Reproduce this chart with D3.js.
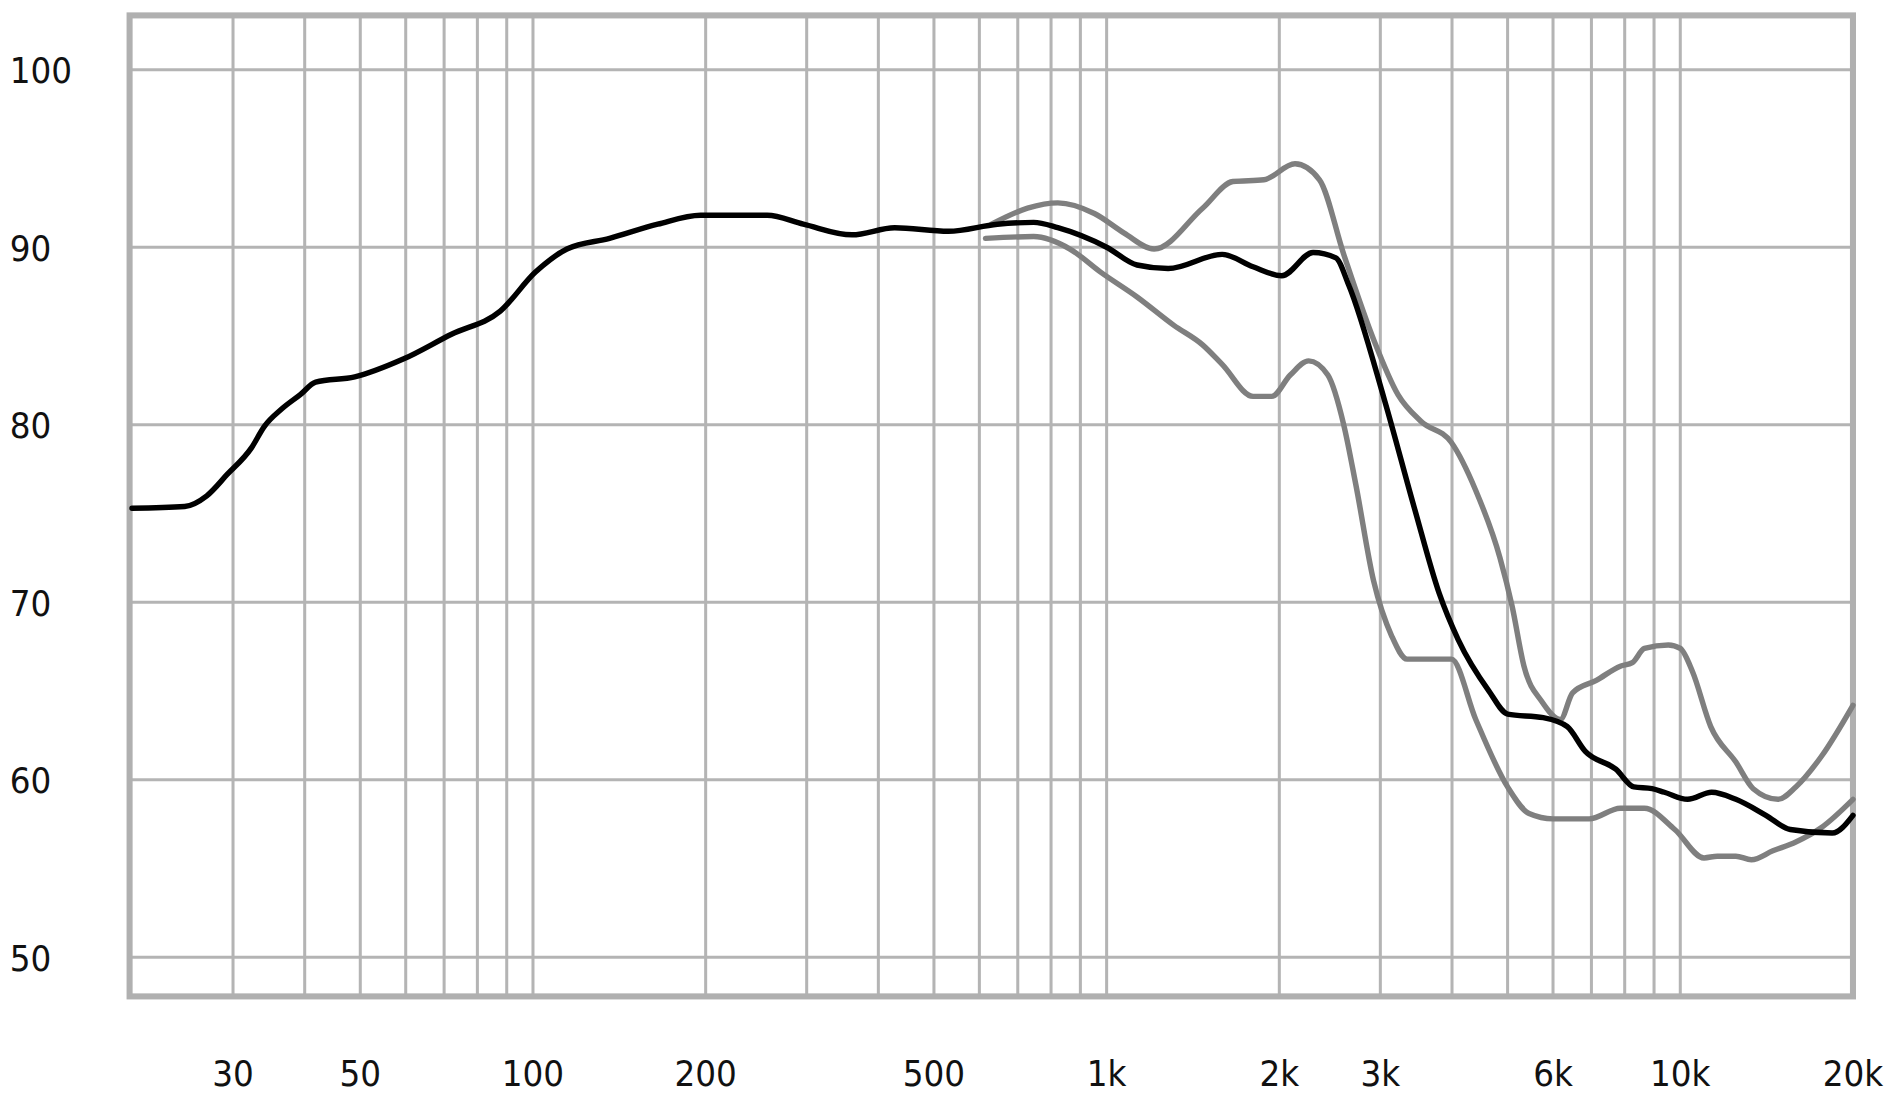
<!DOCTYPE html>
<html>
<head>
<meta charset="utf-8">
<script src="https://cdn.jsdelivr.net/npm/d3@7"></script>
<style>
  body { margin: 0; background: #fff; }
  text { font-family: "DejaVu Sans Condensed", "DejaVu Sans", sans-serif; font-size: 30px; fill: #111; }
</style>
</head>
<body>
<div id="plot"></div>
<script>
// frequency (Hz) / level (dB)
var blackFreq = [20,24.7,27,29.3,32.3,34,36.5,39.3,41.8,48.9,59.4,72.1,87.7,101,114.6,136,165,196,256,296,360,427,530,645,746,822,1000,1130,1280,1590,1800,2020,2290,2510,2640,3050,3440,3800,4100,4640,5000,5770,6350,6830,7720,8300,8930,9380,10300,11340,12500,14100,15550,18400,20000];
var blackDb = [75.3,75.4,76,77.2,78.7,79.9,80.9,81.7,82.4,82.7,83.7,85.1,86.4,88.6,89.9,90.5,91.3,91.8,91.8,91.3,90.7,91.1,90.9,91.3,91.4,91.1,90,89,88.8,89.6,88.9,88.4,89.7,89.4,87.9,81.4,75.3,70.5,67.9,65,63.7,63.5,63,61.6,60.6,59.6,59.5,59.3,58.9,59.3,58.9,58,57.2,57,58];

var upperFreq = [630,728,822,952,1073,1210,1470,1660,1880,2130,2350,2590,2920,3220,3530,3990,4400,4850,5090,5340,5740,6180,6490,7140,7860,8250,8660,9530,10000,10500,11300,12500,13400,14800,15900,17600,20000];
var upperDb = [91.3,92.2,92.5,91.9,90.8,89.9,92.2,93.7,93.8,94.7,93.8,89.6,84.8,81.7,80.2,79,76.3,72.5,69.8,66.4,64.4,63.4,64.9,65.6,66.4,66.6,67.4,67.6,67.4,66.1,63,61,59.5,58.9,59.6,61.3,64.2];

var lowerFreq = [615,746,863,976,1130,1310,1470,1590,1800,1940,2090,2250,2430,2590,2720,2920,3140,3340,3990,4400,5000,5450,6000,6940,7860,8660,9780,11000,11600,12500,13300,14500,15900,17600,20000];
var lowerDb = [90.5,90.6,89.9,88.6,87.2,85.6,84.5,83.4,81.6,81.6,82.8,83.6,82.8,80,76.6,71.2,68.1,66.8,66.8,63.4,59.6,58.1,57.8,57.8,58.4,58.4,57.2,55.6,55.7,55.7,55.5,56,56.5,57.3,58.9];

var xTicks = [30,50,100,200,500,1000,2000,3000,6000,10000,20000];
var xTickLabels = ["30","50","100","200","500","1k","2k","3k","6k","10k","20k"];
var yTicks = [50,60,70,80,90,100];

var W = 1568, H = 906;
var svg = d3.select('#plot').append('svg')
    .attr('width', 1899).attr('height', 1099)
    .attr('viewBox', '0 0 ' + W + ' ' + H);

var x = d3.scaleLog().domain([20, 20000]).range([109, 1530]);
var y = d3.scaleLinear().domain([47.8, 103.06]).range([822, 12]);

// minor grid: 2..9 of every decade
var gridF = [];
[10, 100, 1000, 10000].forEach(function(dec){
    for (var i = 1; i <= 9; i++) { var f = dec * i; if (f > 20 && f < 20000) gridF.push(f); }
});
svg.append('g').selectAll('line').data(gridF).enter().append('line')
    .attr('x1', function(d){ return x(d); }).attr('x2', function(d){ return x(d); })
    .attr('y1', 12).attr('y2', 822)
    .attr('stroke', '#b4b4b4').attr('stroke-width', 2.5);

svg.append('g').selectAll('line').data(yTicks).enter().append('line')
    .attr('x1', 109).attr('x2', 1530)
    .attr('y1', function(d){ return y(d); }).attr('y2', function(d){ return y(d); })
    .attr('stroke', '#b4b4b4').attr('stroke-width', 2.5);

svg.append('rect').attr('x', 107).attr('y', 12).attr('width', 1423).attr('height', 810)
    .attr('fill', 'none').attr('stroke', '#b0b0b0').attr('stroke-width', 5);

// labels
svg.append('g').selectAll('text').data(yTicks).enter().append('text')
    .attr('x', 8).attr('y', function(d){ return y(d) + 11; })
    .text(function(d){ return d; });
svg.append('g').selectAll('text').data(xTicks).enter().append('text')
    .attr('x', function(d){ return Math.min(x(d), 1530); }).attr('y', 896)
    .attr('text-anchor', 'middle')
    .text(function(d, i){ return xTickLabels[i]; });

var line = d3.line()
    .x(function(d){ return x(d[0]); })
    .y(function(d){ return y(d[1]); })
    .curve(d3.curveMonotoneX);

function series(fs, ds) { return fs.map(function(f, i){ return [f, ds[i]]; }); }

[[upperFreq, upperDb, '#7f7f7f'], [lowerFreq, lowerDb, '#7f7f7f'], [blackFreq, blackDb, '#000']].forEach(function(s){
    svg.append('path').datum(series(s[0], s[1]))
        .attr('fill', 'none').attr('stroke', s[2]).attr('stroke-width', 4.5)
        .attr('stroke-linejoin', 'round').attr('stroke-linecap', 'round')
        .attr('d', line);
});
</script>
</body>
</html>
